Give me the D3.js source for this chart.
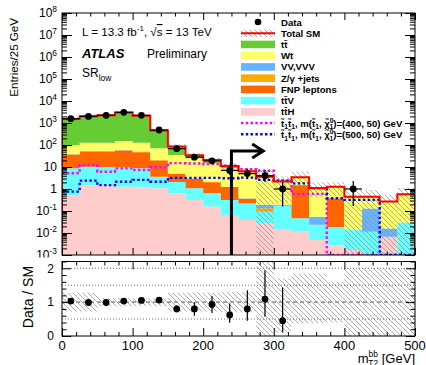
<!DOCTYPE html>
<html>
<head>
<meta charset="utf-8">
<script src="https://cdn.jsdelivr.net/npm/d3@7/dist/d3.min.js"></script>
<style>
  body { margin: 0; background: #fff; }
  svg text { font-family: "Liberation Sans", Arial, Helvetica, sans-serif; fill: #000; }
</style>
</head>
<body>
<svg id="chart" width="426" height="365"></svg>
<script>
// bin edges in GeV (25 GeV bins)
const binEdges = [0, 25, 50, 75, 100, 125, 150, 175, 200, 225, 250, 275, 300, 325, 350, 375, 400, 425, 450, 475, 500];

// background stack, bottom to top (entries / 25 GeV)
const ttH   = [0.53, 1.5, 1.5, 1.26, 1.2, 1.07, 0.64, 0.32, 0.16, 0.066, 0.039, 0.0275, 0.014, 0.0115, 0.0048, 0.0028, 0.0017, 0, 0.0068, 0];
const ttV   = [8.2, 8.8, 8.2, 8.4, 7.5, 2.5, 1.46, 0.75, 0.48, 0.254, 0.18, 0.065, 0.166, 0.0355, 0.018, 0.016, 0.012, 0.0115, 0, 0.03];
const fnp   = [27.3, 40, 40.5, 46, 38.5, 16, 2.7, 1.8, 1.4, 0.9, 0.14, 0.001, 0.005, 1.45, 0, 0.36, 0, 0, 0, 0];
const zjets = [2, 2, 2, 2.2, 2, 1, 0.2, 0.1, 0.07, 0.03, 0.01, 0.04, 0.005, 0.003, 0.001, 0.002, 0, 0, 0, 0];
const vv    = [1, 1.2, 1.3, 1.2, 0.8, 0.4, 0.1, 0.09, 0.04, 0.01, 0.01, 0.057, 0.005, 0.003, 0.031, 0.002, 0, 0.1185, 0.0092, 0];
const wt    = [61, 74, 74, 93, 77, 50, 29.9, 21.7, 12.65, 7.44, 5.7, 3.35, 1.95, 1.85, 0.925, 0.88, 0.436, 0.32, 0.254, 0.54];
const ttbar = [1420, 1900, 2120, 2820, 2023, 384, 50, 9.8, 5.9, 2.3, 0.3, 0.06, 0.06, 0.05, 0.12, 0, 0, 0, 0, 0];

// relative uncertainty on total SM (up / down)
const uncUp = [0.28, 0.28, 0.12, 0.12, 0.12, 0.12, 0.28, 0.28, 0.28, 0.3, 0.3, 1.2, 0.7, 0.84, 0.84, 0.6, 1.0, 1.0, 1.0, 1.0];
const uncDn = [0.28, 0.28, 0.12, 0.12, 0.12, 0.12, 0.28, 0.28, 0.28, 0.3, 0.3, 1.0, 0.9, 0.62, 0.62, 0.6, 1.0, 1.0, 1.0, 1.0];

// signals
const sig400 = [5.2, 12.3, 6.1, 8.7, 7.3, 9.7, 15, 14.5, 13.5, 11.5, 8, 6.8, 2.4, 0.6, 0.6, 0, 0, 0, 0, 0];
const sig500 = [0.76, 2.4, 1.5, 2.15, 2.6, 2.15, 3.2, 3.2, 3.2, 3.1, 3.3, 2.6, 2.4, 1.8, 1.1, 0.38, 0.32, 0.32, 0, 0];

// data
const dataN     = [1570, 2000, 2230, 3060, 2230, 480, 68, 28, 19, 7, 5, 4, 1, 0, 0, 0, 1, 0, 0, 0];
const dataErrUp = [40, 45, 47, 55, 47, 22, 8.2, 5.3, 4.4, 3.8, 3.4, 3.2, 1.1, 0, 0, 0, 1.3, 0, 0, 0];
const dataErrDn = [40, 45, 47, 55, 47, 22, 8.2, 5.3, 4.4, 2.6, 2.2, 1.9, 0.84, 0, 0, 0, 0.83, 0, 0, 0];

// data / SM
const ratio      = [1.03, 0.99, 0.99, 1.03, 1.05, 1.06, 0.80, 0.80, 0.93, 0.62, 0.80, 1.09, 0.45, null, null, null, null, null, null, null];
const ratioErrUp = [0.03, 0.03, 0.03, 0.03, 0.03, 0.05, 0.1, 0.2, 0.25, 0.34, 0.55, 0.85, 0.98, 0, 0, 0, 0, 0, 0, 0];
const ratioErrDn = [0.03, 0.03, 0.03, 0.03, 0.03, 0.05, 0.1, 0.2, 0.25, 0.23, 0.35, 0.52, 0.35, 0, 0, 0, 0, 0, 0, 0];

const xMajor = [0, 100, 200, 300, 400, 500];

const svg = d3.select("#chart");
const x = d3.scaleLinear().domain([0, 500]).range([62, 415]);
const y = d3.scaleLog().domain([1e-3, 1e8]).range([255, 13]);
const yr = d3.scaleLinear().domain([0, 2.2]).range([336, 261.5]);
const yMin = 1e-3;
const cl = v => Math.max(v, yMin);

const defs = svg.append("defs");
defs.append("pattern").attr("id", "hatch").attr("patternUnits", "userSpaceOnUse")
  .attr("width", 5).attr("height", 5)
  .append("path").attr("d", "M-1,-1L6,6M-1,4L1,6M4,-1L6,1")
  .attr("stroke", "#929292").attr("stroke-width", 0.75);
defs.append("clipPath").attr("id", "clipMain").append("rect")
  .attr("x", 62).attr("y", 13).attr("width", 353).attr("height", 242);
defs.append("clipPath").attr("id", "clipRatio").append("rect")
  .attr("x", 62).attr("y", 261.5).attr("width", 353).attr("height", 74.5);

const keys = ["ttH", "ttV", "fnp", "zjets", "vv", "wt", "ttbar"];
const fills = {ttH: "#ffcccc", ttV: "#66ffff", fnp: "#ff6600", zjets: "#ffaa00", vv: "#66b3ff", wt: "#ffff66", ttbar: "#66cc33"};
const table = binEdges.slice(0, -1).map((lo, i) => ({
  lo, ttH: ttH[i], ttV: ttV[i], fnp: fnp[i], zjets: zjets[i], vv: vv[i], wt: wt[i], ttbar: ttbar[i]
}));
const series = d3.stack().keys(keys)(table);
const total = table.map(d => keys.reduce((s, k) => s + d[k], 0));
const last = binEdges.length - 1;

// ---------------- main panel ----------------
const main = svg.append("g").attr("clip-path", "url(#clipMain)");

const area = d3.area()
  .x(d => x(d.x)).y0(d => y(cl(d.y0))).y1(d => y(cl(d.y1)))
  .curve(d3.curveStepAfter);

series.forEach(layer => {
  const pts = layer.map((d, i) => ({x: binEdges[i], y0: d[0], y1: d[1]}));
  pts.push({x: binEdges[last], y0: layer[last - 1][0], y1: layer[last - 1][1]});
  main.append("path").attr("d", area(pts)).attr("fill", fills[layer.key]);
});

// uncertainty band
main.append("g").selectAll("rect").data(total).join("rect")
  .attr("x", (d, i) => x(binEdges[i]))
  .attr("width", (d, i) => x(binEdges[i + 1]) - x(binEdges[i]))
  .attr("y", (d, i) => y(d * (1 + uncUp[i])))
  .attr("height", (d, i) => y(cl(d * (1 - uncDn[i]))) - y(d * (1 + uncUp[i])))
  .attr("fill", "url(#hatch)");

const stepLine = d3.line().x(d => x(d[0])).y(d => y(cl(d[1]))).curve(d3.curveStepAfter);
const stepPts = vals => {
  const p = vals.map((v, i) => [binEdges[i], v]);
  p.push([binEdges[last], vals[vals.length - 1]]);
  return p;
};

// signals
main.append("path").attr("d", stepLine(stepPts(sig400)))
  .attr("fill", "none").attr("stroke", "#ff00ff").attr("stroke-width", 2.4).attr("stroke-dasharray", "2.4,2.4");
main.append("path").attr("d", stepLine(stepPts(sig500)))
  .attr("fill", "none").attr("stroke", "#0000ff").attr("stroke-width", 2.4).attr("stroke-dasharray", "2.4,2.4");

// total SM outline
const totPts = [[0, yMin]].concat(stepPts(total)).concat([[500, yMin]]);
main.append("path").attr("d", stepLine(totPts))
  .attr("fill", "none").attr("stroke", "#ff0000").attr("stroke-width", 2);

// cut arrow at 240 GeV
main.append("path")
  .attr("d", `M${x(240)},${y(yMin)}V${y(53)}H${x(285)}M${x(285) - 11},${y(53) - 7}L${x(285)},${y(53)}L${x(285) - 11},${y(53) + 7}`)
  .attr("fill", "none").attr("stroke", "#000").attr("stroke-width", 3);

// data points
const dataIdx = dataN.map((v, i) => i).filter(i => dataN[i] > 0);
const dg = svg.append("g");
dataIdx.forEach(i => {
  const cx = x((binEdges[i] + binEdges[i + 1]) / 2);
  dg.append("line").attr("x1", x(binEdges[i])).attr("x2", x(binEdges[i + 1]))
    .attr("y1", y(dataN[i])).attr("y2", y(dataN[i])).attr("stroke", "#000").attr("stroke-width", 1.2);
  dg.append("line").attr("x1", cx).attr("x2", cx)
    .attr("y1", y(dataN[i] + dataErrUp[i])).attr("y2", y(cl(dataN[i] - dataErrDn[i])))
    .attr("stroke", "#000").attr("stroke-width", 1.2);
  dg.append("circle").attr("cx", cx).attr("cy", y(dataN[i])).attr("r", 3.4).attr("fill", "#000");
});

// frame + ticks
svg.append("rect").attr("x", 62).attr("y", 13).attr("width", 353).attr("height", 242)
  .attr("fill", "none").attr("stroke", "#000").attr("stroke-width", 1);

const yMajor = d3.range(-3, 9).map(k => Math.pow(10, k));
const yMinor = y.ticks(200).filter(t => Math.abs(Math.log10(t) - Math.round(Math.log10(t))) > 1e-6);
const xMinor = x.ticks(25).filter(t => t % 100 !== 0);

function tickAxis(g, axis) {
  g.call(axis);
  g.select(".domain").remove();
  g.selectAll("line").attr("stroke", "#000");
  g.selectAll("text").remove();
}
tickAxis(svg.append("g").attr("transform", "translate(62,0)"), d3.axisRight(y).tickValues(yMajor).tickSize(10));
tickAxis(svg.append("g").attr("transform", "translate(62,0)"), d3.axisRight(y).tickValues(yMinor).tickSize(5));
tickAxis(svg.append("g").attr("transform", "translate(415,0)"), d3.axisLeft(y).tickValues(yMajor).tickSize(10));
tickAxis(svg.append("g").attr("transform", "translate(415,0)"), d3.axisLeft(y).tickValues(yMinor).tickSize(5));
tickAxis(svg.append("g").attr("transform", "translate(0,255)"), d3.axisTop(x).tickValues(xMajor).tickSize(7));
tickAxis(svg.append("g").attr("transform", "translate(0,255)"), d3.axisTop(x).tickValues(xMinor).tickSize(3.5));
tickAxis(svg.append("g").attr("transform", "translate(0,13)"), d3.axisBottom(x).tickValues(xMajor).tickSize(7));
tickAxis(svg.append("g").attr("transform", "translate(0,13)"), d3.axisBottom(x).tickValues(xMinor).tickSize(3.5));

// rich text helper: parts = [{t, s: 0|'sup'|'sub', dx, style}]
function rich(sel, parts, base) {
  let cur = 0;
  parts.forEach(p => {
    const shift = p.s === "sup" ? -base * 0.42 : p.s === "sub" ? base * 0.3 : 0;
    const ts = sel.append("tspan").text(p.t).attr("dy", shift - cur);
    if (p.s) ts.attr("font-size", base * 0.7);
    if (p.dx) ts.attr("dx", p.dx);
    if (p.style) ts.attr("style", p.style);
    cur = shift;
  });
}

// y labels
yMajor.forEach(v => {
  const k = Math.round(Math.log10(v));
  const t = svg.append("text").attr("x", 57).attr("y", y(v) + 4.3)
    .attr("text-anchor", "end").attr("font-size", 12);
  if (k === 0) t.text("1");
  else if (k === 1) t.text("10");
  else rich(t, [{t: "10"}, {t: String(k), s: "sup"}], 12);
});

svg.append("text").attr("transform", "translate(17.5,18) rotate(-90)")
  .attr("text-anchor", "end").attr("font-size", 11.6).text("Entries/25 GeV");

// labels on plot
const lt = svg.append("text").attr("x", 82).attr("y", 36).attr("font-size", 11.6);
rich(lt, [{t: "L = 13.3 fb"}, {t: "-1", s: "sup"}, {t: ", \u221A"}, {t: "s", style: "text-decoration:overline"}, {t: " = 13 TeV"}], 11.6);
svg.append("text").attr("x", 82).attr("y", 58).attr("font-size", 13)
  .attr("font-weight", "bold").attr("font-style", "italic").text("ATLAS");
svg.append("text").attr("x", 147).attr("y", 58).attr("font-size", 12).text("Preliminary");
const sr = svg.append("text").attr("x", 82).attr("y", 77).attr("font-size", 12);
rich(sr, [{t: "SR"}, {t: "low", s: "sub"}], 12);

// legend
const legY0 = 22, legDy = 11.23, swX = 241, swW = 34, txX = 281, legFs = 9.6;
const tilde = "t\u0303";
const sigLabel = m => [{t: tilde}, {t: "1", s: "sub"}, {t: tilde}, {t: "1", s: "sub"}, {t: ", m("}, {t: tilde}, {t: "1", s: "sub"},
  {t: ", \u03C7\u0303"}, {t: "0", s: "sup"}, {t: "1", s: "sub", dx: -4}, {t: `)=(${m}, 50) GeV`}];
const legendRows = [
  {type: "data", label: [{t: "Data"}]},
  {type: "total", label: [{t: "Total SM"}]},
  {type: "fill", key: "ttbar", label: [{t: "tt\u0304"}]},
  {type: "fill", key: "wt", label: [{t: "Wt"}]},
  {type: "fill", key: "vv", label: [{t: "VV,VVV"}]},
  {type: "fill", key: "zjets", label: [{t: "Z/\u03B3 +jets"}]},
  {type: "fill", key: "fnp", label: [{t: "FNP leptons"}]},
  {type: "fill", key: "ttV", label: [{t: "tt\u0304V"}]},
  {type: "fill", key: "ttH", label: [{t: "tt\u0304H"}]},
  {type: "sig", color: "#ff00ff", label: sigLabel(400)},
  {type: "sig", color: "#0000ff", label: sigLabel(500)}
];
const leg = svg.append("g");
legendRows.forEach((r, i) => {
  const ry = legY0 + i * legDy;
  if (r.type === "data") {
    leg.append("circle").attr("cx", 258).attr("cy", ry).attr("r", 3.3).attr("fill", "#000");
  } else if (r.type === "total") {
    leg.append("rect").attr("x", swX).attr("y", ry - 3.8).attr("width", swW).attr("height", 7.6).attr("fill", "url(#hatch)");
    leg.append("line").attr("x1", swX).attr("x2", swX + swW).attr("y1", ry).attr("y2", ry)
      .attr("stroke", "#ff0000").attr("stroke-width", 2);
  } else if (r.type === "fill") {
    leg.append("rect").attr("x", swX).attr("y", ry - 3.8).attr("width", swW).attr("height", 7.6).attr("fill", fills[r.key]);
  } else {
    leg.append("line").attr("x1", swX).attr("x2", swX + swW).attr("y1", ry).attr("y2", ry)
      .attr("stroke", r.color).attr("stroke-width", 2.4).attr("stroke-dasharray", "2.4,2.4");
  }
  const t = leg.append("text").attr("x", txX).attr("y", ry + 3.5).attr("font-size", legFs).attr("font-weight", "bold");
  rich(t, r.label, legFs);
});

// ---------------- ratio panel ----------------
svg.append("rect").attr("x", 0).attr("y", 257.5).attr("width", 426).attr("height", 108).attr("fill", "#fff");
const rp = svg.append("g").attr("clip-path", "url(#clipRatio)");

rp.append("g").selectAll("rect").data(total).join("rect")
  .attr("x", (d, i) => x(binEdges[i]))
  .attr("width", (d, i) => x(binEdges[i + 1]) - x(binEdges[i]))
  .attr("y", (d, i) => yr(Math.min(1 + uncUp[i], 2.2)))
  .attr("height", (d, i) => yr(Math.max(1 - uncDn[i], 0)) - yr(Math.min(1 + uncUp[i], 2.2)))
  .attr("fill", "url(#hatch)");

[0.5, 1.5, 2].forEach(v => {
  rp.append("line").attr("x1", 62).attr("x2", 415).attr("y1", yr(v)).attr("y2", yr(v))
    .attr("stroke", "#444").attr("stroke-width", 0.8).attr("stroke-dasharray", "1,2");
});
rp.append("line").attr("x1", 62).attr("x2", 415).attr("y1", yr(1)).attr("y2", yr(1))
  .attr("stroke", "#999").attr("stroke-width", 1.6).attr("stroke-dasharray", "4,3");

ratio.forEach((r, i) => {
  if (r === null) return;
  const cx = x((binEdges[i] + binEdges[i + 1]) / 2);
  rp.append("line").attr("x1", cx).attr("x2", cx)
    .attr("y1", yr(r + ratioErrUp[i])).attr("y2", yr(Math.max(r - ratioErrDn[i], 0)))
    .attr("stroke", "#000").attr("stroke-width", 1.2);
  rp.append("circle").attr("cx", cx).attr("cy", yr(r)).attr("r", 3.4).attr("fill", "#000");
});

svg.append("rect").attr("x", 62).attr("y", 261.5).attr("width", 353).attr("height", 74.5)
  .attr("fill", "none").attr("stroke", "#000").attr("stroke-width", 1);

const rMajor = [0, 1, 2];
const rMinor = yr.ticks(11).filter(t => Math.abs(t - Math.round(t)) > 1e-6);
tickAxis(svg.append("g").attr("transform", "translate(62,0)"), d3.axisRight(yr).tickValues(rMajor).tickSize(9));
tickAxis(svg.append("g").attr("transform", "translate(62,0)"), d3.axisRight(yr).tickValues(rMinor).tickSize(4.5));
tickAxis(svg.append("g").attr("transform", "translate(415,0)"), d3.axisLeft(yr).tickValues(rMajor).tickSize(9));
tickAxis(svg.append("g").attr("transform", "translate(415,0)"), d3.axisLeft(yr).tickValues(rMinor).tickSize(4.5));
tickAxis(svg.append("g").attr("transform", "translate(0,336)"), d3.axisTop(x).tickValues(xMajor).tickSize(8));
tickAxis(svg.append("g").attr("transform", "translate(0,336)"), d3.axisTop(x).tickValues(xMinor).tickSize(4));
tickAxis(svg.append("g").attr("transform", "translate(0,261.5)"), d3.axisBottom(x).tickValues(xMajor).tickSize(8));
tickAxis(svg.append("g").attr("transform", "translate(0,261.5)"), d3.axisBottom(x).tickValues(xMinor).tickSize(4));

rMajor.forEach(v => {
  svg.append("text").attr("x", 54).attr("y", yr(v) + 4.3).attr("text-anchor", "end")
    .attr("font-size", 12).text(v);
});
xMajor.forEach(v => {
  svg.append("text").attr("x", x(v)).attr("y", 349.5).attr("text-anchor", "middle")
    .attr("font-size", 13).text(v);
});

svg.append("text").attr("transform", "translate(33,297) rotate(-90)")
  .attr("text-anchor", "middle").attr("font-size", 14).text("Data / SM");

const xt = svg.append("text").attr("x", 415).attr("y", 362.5).attr("text-anchor", "end").attr("font-size", 13);
rich(xt, [{t: "m"}, {t: "bb", s: "sup"}, {t: "T2", s: "sub", dx: -9.5}, {t: " [GeV]"}], 12);
</script>
</body>
</html>
